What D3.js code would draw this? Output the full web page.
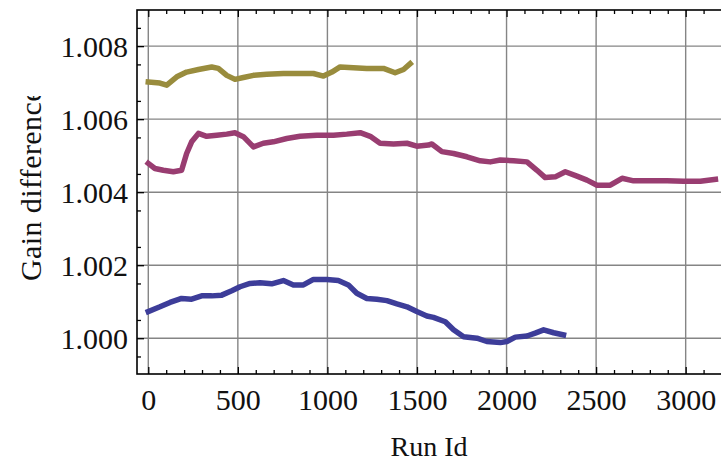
<!DOCTYPE html>
<html>
<head>
<meta charset="utf-8">
<script src="https://cdn.jsdelivr.net/npm/d3@7"></script>
<style>
  html, body { margin: 0; padding: 0; background: #fff; }
  svg { display: block; }
  text { font-family: "Liberation Serif", "Times New Roman", serif; fill: #111; }
</style>
</head>
<body>
<svg id="chart" width="721" height="463"></svg>
<script>
// ---- data ----
const xTicks = [0, 500, 1000, 1500, 2000, 2500, 3000];
const yTicks = [1.000, 1.002, 1.004, 1.006, 1.008];
const yTickLabels = ["1.000", "1.002", "1.004", "1.006", "1.008"];
const xLabel = "Run Id";
const yLabel = "Gain difference";

const olivePts = [
  [0, 1.00702], [65, 1.00699], [103, 1.00693], [159, 1.00716], [214, 1.00729],
  [280, 1.00736], [354, 1.00743], [391, 1.00739], [438, 1.00720], [484, 1.00709],
  [531, 1.00714], [587, 1.00720], [661, 1.00723], [754, 1.00725], [847, 1.00725],
  [922, 1.00725], [978, 1.00718], [1025, 1.00729], [1071, 1.00743], [1145, 1.00741],
  [1220, 1.00739], [1313, 1.00739], [1378, 1.00727], [1425, 1.00736], [1462, 1.00752]
];
const magentaPts = [
  [0, 1.00479], [37, 1.00465], [84, 1.00460], [140, 1.00456], [186, 1.00460],
  [214, 1.00506], [242, 1.00538], [280, 1.00561], [326, 1.00553], [382, 1.00556],
  [438, 1.00559], [484, 1.00563], [531, 1.00552], [587, 1.00524], [642, 1.00534],
  [698, 1.00538], [773, 1.00547], [847, 1.00553], [941, 1.00556], [1034, 1.00556],
  [1108, 1.00559], [1183, 1.00563], [1239, 1.00553], [1294, 1.00534], [1369, 1.00532],
  [1444, 1.00534], [1499, 1.00526], [1564, 1.00529], [1583, 1.00532], [1639, 1.00511],
  [1704, 1.00506], [1779, 1.00497], [1853, 1.00486], [1909, 1.00483], [1965, 1.00488],
  [2039, 1.00486], [2114, 1.00483], [2170, 1.00460], [2216, 1.00440], [2272, 1.00442],
  [2328, 1.00456], [2393, 1.00444], [2449, 1.00433], [2505, 1.00419], [2579, 1.00419],
  [2645, 1.00438], [2709, 1.00431], [2803, 1.00431], [2896, 1.00431], [2989, 1.00430],
  [3082, 1.00430], [3166, 1.00435]
];
const bluePts = [
  [0, 1.00073], [65, 1.00086], [121, 1.00098], [186, 1.00109], [242, 1.00107],
  [298, 1.00116], [354, 1.00116], [410, 1.00118], [466, 1.00130], [512, 1.00141],
  [568, 1.00150], [624, 1.00152], [689, 1.00149], [754, 1.00158], [810, 1.00146],
  [866, 1.00146], [922, 1.00161], [997, 1.00161], [1061, 1.00158], [1117, 1.00146],
  [1164, 1.00123], [1220, 1.00109], [1276, 1.00107], [1332, 1.00103], [1388, 1.00094],
  [1444, 1.00086], [1499, 1.00073], [1555, 1.00061], [1592, 1.00057], [1658, 1.00045],
  [1704, 1.00023], [1760, 1.00004], [1835, 1.00000], [1890, 0.99991], [1965, 0.99988],
  [2002, 0.99991], [2049, 1.00003], [2114, 1.00006], [2160, 1.00014], [2207, 1.00023],
  [2263, 1.00015], [2318, 1.00009]
];
const seriesList = [bluePts, magentaPts, olivePts];
const seriesColors = ["#3d3d99", "#993d71", "#998c3d"];

// ---- layout ----
const svg = d3.select("#chart");
const pLeft = 137, pRight = 721.5, pTop = 10, pBottom = 374;

const x = d3.scaleLinear().domain([-63, 3200]).range([pLeft, pRight]);
const y = d3.scaleLinear().domain([0.99902, 1.00899]).range([pBottom, pTop]);

// grid lines
const grid = svg.append("g");
grid.selectAll("line.gx").data(xTicks).join("line")
  .attr("class", "gx")
  .attr("x1", d => x(d)).attr("x2", d => x(d))
  .attr("y1", pTop).attr("y2", pBottom)
  .attr("stroke", "#858585").attr("stroke-width", 1.4);
grid.selectAll("line.gy").data(yTicks).join("line")
  .attr("class", "gy")
  .attr("x1", pLeft).attr("x2", pRight + 5)
  .attr("y1", d => y(d)).attr("y2", d => y(d))
  .attr("stroke", "#858585").attr("stroke-width", 1.4);

// series
const line = d3.line().x(d => x(d[0])).y(d => y(d[1]));
seriesList.forEach((pts, i) => {
  svg.append("path").datum(pts)
    .attr("d", line)
    .attr("fill", "none")
    .attr("stroke", seriesColors[i])
    .attr("stroke-width", 5.5)
    .attr("stroke-linejoin", "round")
    .attr("stroke-linecap", "square");
});

// frame axes with inward ticks
const xMinor = d3.range(100, 3201, 100).filter(v => v % 500 !== 0);
const yMinor = [0.9995, 1.0005, 1.0015, 1.0025, 1.0035, 1.0045, 1.0055, 1.0065, 1.0075, 1.0085];

const bottomAxis = d3.axisBottom(x).tickValues(xTicks).tickSize(-7).tickFormat(d3.format("d")).tickPadding(16);
const bottomMinor = d3.axisBottom(x).tickValues(xMinor).tickSize(-4).tickFormat("");
const topAxis = d3.axisTop(x).tickValues(xTicks).tickSize(-7).tickFormat("");
const topMinor = d3.axisTop(x).tickValues(xMinor).tickSize(-4).tickFormat("");
const leftAxis = d3.axisLeft(y).tickValues(yTicks).tickSize(-7)
  .tickFormat((d, i) => yTickLabels[i]).tickPadding(16);
const leftMinor = d3.axisLeft(y).tickValues(yMinor).tickSize(-4).tickFormat("");

function styleAxis(g) {
  g.select(".domain").remove();
  g.selectAll(".tick line").attr("stroke", "#000").attr("stroke-width", 1.3);
  g.selectAll(".tick text").attr("font-family", "Liberation Serif, serif")
    .attr("font-size", 30).attr("fill", "#111");
}

svg.append("g").attr("transform", `translate(0,${pBottom})`).call(bottomAxis).call(styleAxis)
  .selectAll(".tick text").attr("dy", null).attr("y", 36);
svg.append("g").attr("transform", `translate(0,${pBottom})`).call(bottomMinor).call(styleAxis);
svg.append("g").attr("transform", `translate(0,${pTop})`).call(topAxis).call(styleAxis);
svg.append("g").attr("transform", `translate(0,${pTop})`).call(topMinor).call(styleAxis);
svg.append("g").attr("transform", `translate(${pLeft},0)`).call(leftAxis).call(styleAxis)
  .selectAll(".tick text").attr("x", -9).attr("dy", "0.34em");
svg.append("g").attr("transform", `translate(${pLeft},0)`).call(leftMinor).call(styleAxis);

// frame
svg.append("rect")
  .attr("x", pLeft).attr("y", pTop)
  .attr("width", pRight - pLeft + 3).attr("height", pBottom - pTop)
  .attr("fill", "none").attr("stroke", "#000").attr("stroke-width", 1.6);

// axis labels
svg.append("text")
  .attr("x", 429).attr("y", 456)
  .attr("text-anchor", "middle")
  .attr("font-size", 28)
  .text(xLabel);

svg.append("defs").append("clipPath").attr("id", "ylabclip")
  .append("rect").attr("x", 0).attr("y", 96).attr("width", 80).attr("height", 360);
svg.append("g").attr("clip-path", "url(#ylabclip)")
  .append("text")
  .attr("transform", `translate(41,281) rotate(-90)`)
  .attr("text-anchor", "start")
  .attr("font-size", 30)
  .attr("letter-spacing", 0.4)
  .text(yLabel);
</script>
</body>
</html>
